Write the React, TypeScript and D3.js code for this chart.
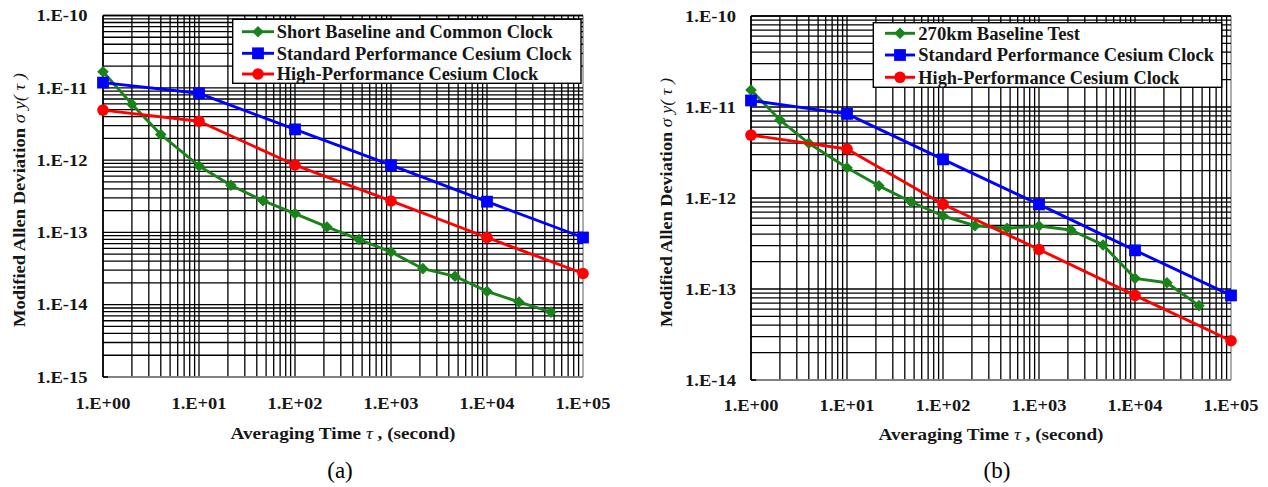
import React from "react";
import * as d3 from "d3";

// ---- data ----
const tauThird = [1, 2, 4, 10, 21.5, 46.4, 100, 215, 464, 1000, 2150, 4640, 10000, 21500, 46400];
const greenA = [1.67e-11, 5.94e-12, 2.26e-12, 8.3e-13, 4.49e-13, 2.75e-13, 1.82e-13, 1.19e-13, 8.0e-14, 5.36e-14, 3.15e-14, 2.47e-14, 1.53e-14, 1.09e-14, 7.9e-15];
const greenB = [1.54e-11, 7.2e-12, 3.99e-12, 2.15e-12, 1.36e-12, 9.1e-13, 6.34e-13, 4.96e-13, 4.65e-13, 4.92e-13, 4.45e-13, 3.05e-13, 1.31e-13, 1.17e-13, 6.56e-14];
const tauDecade = [1, 10, 100, 1000, 10000, 100000];
const bluePerf = [1.18e-11, 8.4e-12, 2.66e-12, 8.5e-13, 2.66e-13, 8.5e-14];
const redPerf = [4.92e-12, 3.45e-12, 8.55e-13, 2.72e-13, 8.5e-14, 2.7e-14];

const xTickLabels = ["1.E+00", "1.E+01", "1.E+02", "1.E+03", "1.E+04", "1.E+05"];
const yTickLabelsA = ["1.E-10", "1.E-11", "1.E-12", "1.E-13", "1.E-14", "1.E-15"];
const yTickLabelsB = ["1.E-10", "1.E-11", "1.E-12", "1.E-13", "1.E-14"];
const legendA = ["Short Baseline and Common Clock", "Standard Performance Cesium Clock", "High-Performance Cesium Clock"];
const legendB = ["270km Baseline Test", "Standard Performance Cesium Clock", "High-Performance Cesium Clock"];

const FONT = "Liberation Serif, Times New Roman, DejaVu Serif, serif";
const GREEN = "#1a821a";
const BLUE = "#0000ff";
const RED = "#ff0000";

function Marker({ kind, x, y, color }: { kind: string; x: number; y: number; color: string }) {
  if (kind === "diamond") {
    const s = 5.8;
    return <path d={`M${x},${y - s}L${x + s},${y}L${x},${y + s}L${x - s},${y}Z`} fill={color} />;
  }
  if (kind === "square") {
    const s = 5.9;
    return <rect x={x - s} y={y - s} width={2 * s} height={2 * s} fill={color} />;
  }
  return <circle cx={x} cy={y} r={5.8} fill={color} />;
}

type ChartProps = {
  x0: number; x1: number; yTop: number; yBot: number;
  yMin: number; yLabels: string[]; green: number[];
  legend: string[]; legendBox: [number, number, number, number];
  legendRows: number[]; sampleX: [number, number]; textX: number; textW: number[];
  yLabelEnd: number; xLabelY: number; xTitleY: number; titleX: number; titleY: [number, number];
  panel: string; panelX: number; xTitleW: number;
};

const txt = { fontFamily: FONT };
const INK = "#161616";

function Chart(p: ChartProps) {
  const x = d3.scaleLog().domain([1, 1e5]).range([p.x0, p.x1]);
  const y = d3.scaleLog().domain([p.yMin, 1e-10]).range([p.yBot, p.yTop]);
  const line = d3.line<[number, number]>().x((d) => x(d[0])).y((d) => y(d[1]));

  const xGrid: number[] = [];
  for (let e = 0; e < 5; e++) for (let k = 1; k < 10; k++) xGrid.push(k * Math.pow(10, e));
  xGrid.push(1e5);
  const yGrid: number[] = [];
  const eMin = Math.round(Math.log10(p.yMin));
  for (let e = eMin; e < -10; e++) for (let k = 1; k < 10; k++) yGrid.push(k * Math.pow(10, e));
  yGrid.push(1e-10);

  const series = [
    { tau: tauThird, v: p.green, color: GREEN, kind: "diamond" },
    { tau: tauDecade, v: bluePerf, color: BLUE, kind: "square" },
    { tau: tauDecade, v: redPerf, color: RED, kind: "circle" },
  ];
  const [lx0, ly0, lx1, ly1] = p.legendBox;
  const tc = (p.titleY[0] + p.titleY[1]) / 2;

  return (
    <g>
      {/* grid */}
      {xGrid.map((t, i) => (
        <line key={"vx" + i} x1={x(t)} x2={x(t)} y1={p.yTop} y2={p.yBot}
          stroke={t === 1e5 ? "#9a9a9a" : "#000"} strokeWidth={t === 1e5 ? 1.6 : 1.3} />
      ))}
      {yGrid.map((v, i) => (
        <line key={"hy" + i} x1={p.x0} x2={p.x1} y1={y(v)} y2={y(v)} stroke="#000" strokeWidth={1.3} />
      ))}
      <line x1={p.x0} x2={p.x1} y1={p.yBot} y2={p.yBot} stroke="#9a9a9a" strokeWidth={1.6} />
      <line x1={p.x0} x2={p.x0 + 5} y1={p.yBot} y2={p.yBot} stroke="#000" strokeWidth={1.6} />
      <line x1={p.x0} x2={p.x0} y1={p.yTop} y2={p.yBot} stroke="#000" strokeWidth={1.5} />
      <line x1={p.x0} x2={p.x1} y1={p.yTop} y2={p.yTop} stroke="#000" strokeWidth={1.5} />

      {/* series */}
      {series.map((s, si) => (
        <g key={"s" + si}>
          <path d={line(s.tau.map((t, i) => [t, s.v[i]] as [number, number])) || ""} fill="none"
            stroke={s.color} strokeWidth={2.9} strokeLinejoin="round" />
          {s.tau.map((t, i) => (
            <Marker key={i} kind={s.kind} x={x(t)} y={y(s.v[i])} color={s.color} />
          ))}
        </g>
      ))}

      {/* legend */}
      <rect x={lx0} y={ly0} width={lx1 - lx0} height={ly1 - ly0} fill="#fff" stroke="#000" strokeWidth={1.4} />
      {series.map((s, i) => (
        <g key={"l" + i}>
          <line x1={p.sampleX[0]} x2={p.sampleX[1]} y1={p.legendRows[i]} y2={p.legendRows[i]} stroke={s.color} strokeWidth={2.9} />
          <Marker kind={s.kind} x={(p.sampleX[0] + p.sampleX[1]) / 2} y={p.legendRows[i]} color={s.color} />
          <text x={p.textX} y={p.legendRows[i]} dy="0.35em" style={txt} fontWeight="bold" fontSize={18}
            fill={INK} textLength={p.textW[i]} lengthAdjust="spacingAndGlyphs">{p.legend[i]}</text>
        </g>
      ))}

      {/* y tick labels */}
      {p.yLabels.map((lab, i) => (
        <text key={"yl" + i} x={p.yLabelEnd} y={y(Math.pow(10, -10 - i))} dy="0.36em" textAnchor="end"
          style={txt} fontWeight="bold" fontSize={16} fill={INK} textLength={51} lengthAdjust="spacingAndGlyphs">{lab}</text>
      ))}
      {/* x tick labels */}
      {xTickLabels.map((lab, i) => (
        <text key={"xl" + i} x={x(Math.pow(10, i)) - 27.5} y={p.xLabelY} dy="0.36em"
          style={txt} fontWeight="bold" fontSize={17} fill={INK} textLength={55} lengthAdjust="spacingAndGlyphs">{lab}</text>
      ))}
      {/* x title */}
      <text x={(p.x0 + p.x1) / 2 - p.xTitleW / 2} y={p.xTitleY} dy="0.36em" style={txt} fontSize={17} fill={INK}
        textLength={p.xTitleW} lengthAdjust="spacingAndGlyphs">
        <tspan fontWeight="bold">Averaging Time </tspan>
        <tspan fontStyle="italic"> τ </tspan>
        <tspan fontWeight="bold">, (second)</tspan>
      </text>
      {/* y title */}
      <text transform={`translate(${p.titleX},${tc}) rotate(-90)`} x={-(p.titleY[1] - p.titleY[0]) / 2} y={0} dy="0.36em"
        style={txt} fontSize={17.5} fill={INK} textLength={p.titleY[1] - p.titleY[0]} lengthAdjust="spacingAndGlyphs">
        <tspan fontWeight="bold">Modified Allen Deviation </tspan>
        <tspan fontStyle="italic">  σ y( τ )</tspan>
      </text>
      {/* panel label */}
      <text x={p.panelX} y={478} textAnchor="middle" style={txt} fontSize={23} fill="#000">{p.panel}</text>
    </g>
  );
}

export default function App() {
  return (
    <svg width={1268} height={487} style={{ position: "absolute", left: 0, top: 0, background: "#fff" }}>
      <rect width={1268} height={487} fill="#fff" />
      <Chart x0={103} x1={583} yTop={15.5} yBot={377} yMin={1e-15} yLabels={yTickLabelsA} green={greenA}
        legend={legendA} legendBox={[232.7, 19.3, 581, 83.3]} legendRows={[31.7, 53.3, 74]}
        sampleX={[242, 274]} textX={276.7} textW={[276, 295, 261.6]}
        yLabelEnd={87.5} xLabelY={402.7} xTitleY={433} titleX={18.5} titleY={[73, 327]}
        panel="(a)" panelX={340} xTitleW={225} />
      <Chart x0={751} x1={1231} yTop={16} yBot={380} yMin={1e-14} yLabels={yTickLabelsB} green={greenB}
        legend={legendB} legendBox={[873.3, 22.7, 1221.7, 87.3]} legendRows={[33.3, 55, 77.3]}
        sampleX={[885, 915]} textX={918.3} textW={[161.7, 295.7, 261]}
        yLabelEnd={736} xLabelY={405} xTitleY={434} titleX={666} titleY={[78, 327]}
        panel="(b)" panelX={997} xTitleW={225} />
    </svg>
  );
}
